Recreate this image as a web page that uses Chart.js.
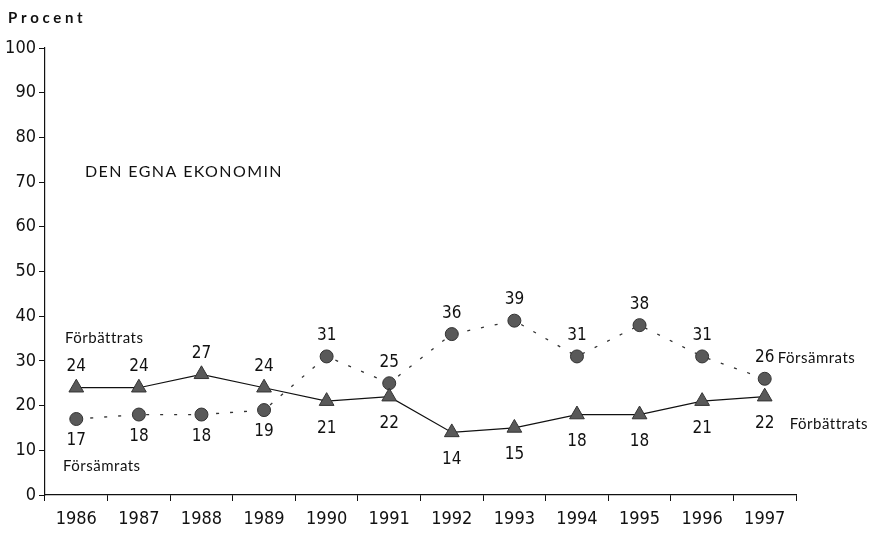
<!DOCTYPE html>
<html>
<head>
<meta charset="utf-8">
<script src="https://cdn.jsdelivr.net/npm/chart.js@4"></script>
<style>
  html, body { margin: 0; padding: 0; background: #fff; }
  #wrap { width: 874px; height: 538px; position: relative; }
</style>
</head>
<body>
<div id="wrap"><canvas id="chart"></canvas></div>
<script>
const years = ['1986', '1987', '1988', '1989', '1990', '1991', '1992', '1993', '1994', '1995', '1996', '1997'];
const forbattrats = [24, 24, 27, 24, 21, 22, 14, 15, 18, 18, 21, 22];
const forsamrats = [17, 18, 18, 19, 31, 25, 36, 39, 31, 38, 31, 26];
const yTicks = [0, 10, 20, 30, 40, 50, 60, 70, 80, 90, 100];

const numFont = "'Liberation Sans Narrow', 'DejaVu Sans Condensed', 'Arial Narrow', sans-serif";
const txtFont = "Lato, 'DejaVu Sans', sans-serif";

// value labels + free text
const labelPlugin = {
  id: 'labels',
  afterDatasetsDraw(chart) {
    const ctx = chart.ctx;
    ctx.save();
    ctx.fillStyle = '#111';
    ctx.textAlign = 'center';
    ctx.textBaseline = 'middle';
    ctx.font = '17px ' + numFont;
    chart.data.datasets.forEach((ds, di) => {
      const meta = chart.getDatasetMeta(di);
      meta.data.forEach((pt, i) => {
        // improved: above for the first four years, below after; worsened the opposite
        const above = di === 0 ? i < 4 : i >= 4;
        const dy = above ? -21 : (di === 0 ? 27 : 22);
        ctx.fillText(String(ds.data[i]), pt.x, pt.y + dy);
      });
    });

    ctx.font = '15px ' + txtFont;
    ctx.textAlign = 'left';
    ctx.letterSpacing = '0.5px';
    const a = chart.getDatasetMeta(0).data;
    const b = chart.getDatasetMeta(1).data;
    const n = a.length - 1;
    ctx.fillText('Förbättrats', 65, 338);
    ctx.fillText('Försämrats', 63, 466);
    ctx.fillText('Förbättrats', a[n].x + 25, a[n].y + 27);
    // last worsened value sits left of its series name
    ctx.fillText('Försämrats', b[n].x + 13, b[n].y - 21);

    ctx.font = '16px ' + txtFont;
    ctx.letterSpacing = '1.4px';
    ctx.fillText('DEN EGNA EKONOMIN', 85, 172);
    ctx.letterSpacing = '0px';
    ctx.font = 'bold 15px ' + txtFont;
    ctx.fillText('P r o c e n t', 8, 18);
    ctx.restore();
  }
};

new Chart(document.getElementById('chart'), {
  type: 'line',
  data: {
    labels: years,
    datasets: [{
      label: 'Förbättrats',
      data: forbattrats,
      borderColor: '#111',
      borderWidth: 1.2,
      pointStyle: 'triangle',
      pointRadius: 8.5,
      pointBackgroundColor: '#595959',
      pointBorderColor: '#333',
      pointBorderWidth: 1,
      tension: 0,
    }, {
      label: 'Försämrats',
      data: forsamrats,
      borderColor: '#333',
      borderWidth: 1.3,
      borderDash: [3, 11],
      pointStyle: 'circle',
      pointRadius: 6.5,
      pointBackgroundColor: '#595959',
      pointBorderColor: '#333',
      pointBorderWidth: 1,
      tension: 0,
    }],
  },
  options: {
    responsive: true, maintainAspectRatio: false, animation: false,
    layout: { padding: { left: 0, right: 78, top: 48, bottom: 0 } },
    plugins: { legend: { display: false }, tooltip: { enabled: false } },
    scales: {
      x: {
        offset: true,
        grid: { offset: true, drawOnChartArea: false, tickLength: 6, color: '#111' },
        border: { color: '#111', width: 1.2 },
        ticks: { color: '#111', padding: 8, font: { family: numFont, size: 18 }, maxRotation: 0 },
        afterFit: s => { s.height = 43; },
      },
      y: {
        min: 0, max: 100,
        afterBuildTicks: s => { s.ticks = yTicks.map(v => ({ value: v })); },
        grid: { drawOnChartArea: false, tickLength: 6, color: '#111' },
        border: { color: '#111', width: 1.2 },
        ticks: { color: '#111', padding: 3, font: { family: numFont, size: 18 } },
        afterFit: s => { s.width = 45; },
      },
    },
  },
  plugins: [labelPlugin],
});
</script>
</body>
</html>
